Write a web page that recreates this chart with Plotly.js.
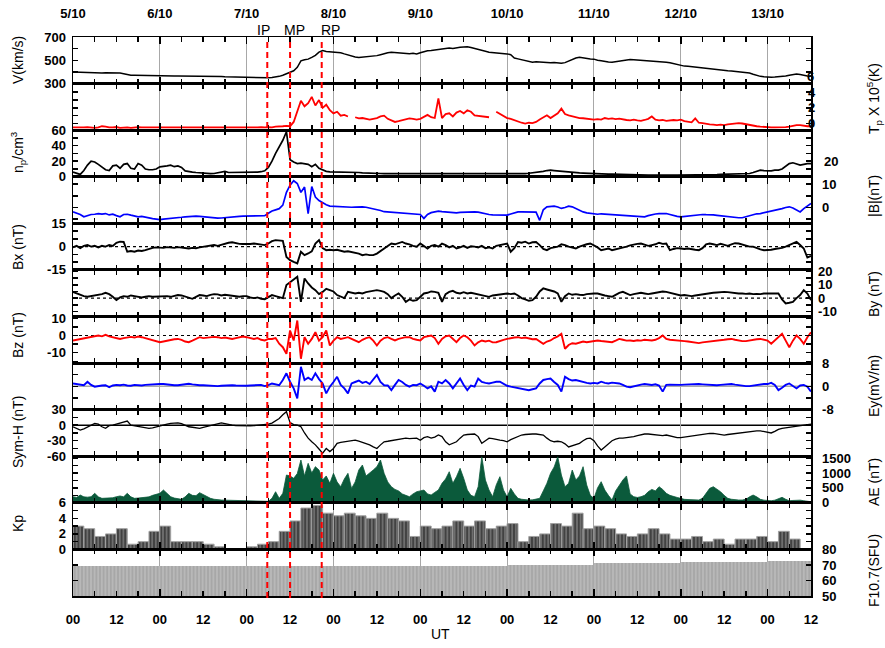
<!DOCTYPE html>
<html><head><meta charset="utf-8">
<script src="https://cdn.plot.ly/plotly-3.0.1.min.js"></script>
<style>html,body{margin:0;padding:0;background:#fff}#chart{width:885px;height:648px}</style>
</head><body><div id="chart"></div>
<script>
// ---- time axis: hours since 5/10 00 UT ----
const DAY_LABELS = ['5/10','6/10','7/10','8/10','9/10','10/10','11/10','12/10','13/10'];
const HOUR_LABELS = ['00','12','00','12','00','12','00','12','00','12','00','12','00','12','00','12','00','12'];
const EVENTS = [{name:'IP', t:53.7, shift:-4}, {name:'MP', t:60.0, shift:4}, {name:'RP', t:68.75, shift:9}];

// ---- hourly series (one row per day) ----
const V = [
400,398,396,394,392,393,394,391,390,392,393,392,393,390,385,378,372,371,370,372,371,369,368,370,
370,369,368,367,365,366,366,365,364,364,363,362,362,361,360,360,361,360,358,357,356,356,355,354,
352,351,350,350,351,350,350,352,356,362,372,385,395,410,440,495,505,510,525,542,570,583,575,572,
570,572,565,555,545,535,528,525,527,530,532,535,540,548,558,565,570,566,562,560,557,556,560,555,
565,575,582,585,590,595,598,600,605,602,610,612,615,617,610,603,598,590,578,570,568,565,560,558,
555,548,520,512,505,495,485,483,488,485,483,480,478,480,476,474,480,495,510,520,526,520,515,512,
510,500,497,490,485,483,488,492,498,502,506,505,503,500,498,494,490,488,486,485,483,478,470,462,
454,450,448,444,440,438,433,430,426,423,420,416,412,410,408,405,402,399,397,390,380,370,362,358,
354,355,356,358,360,365,372,378,383,378,370,366,363];
const TP = [
-0.5,-0.5,-0.55,-0.5,-0.45,-0.5,-0.55,-0.5,-0.35,-0.4,-0.5,-0.5,-0.45,-0.55,-0.5,-0.5,-0.55,-0.5,-0.45,-0.5,-0.5,-0.55,-0.5,-0.5,
-0.5,-0.55,-0.5,-0.5,-0.55,-0.5,-0.5,-0.55,-0.5,-0.55,-0.5,-0.5,-0.55,-0.5,-0.5,-0.55,-0.5,-0.5,-0.55,-0.5,-0.55,-0.5,-0.5,-0.5,
-0.5,-0.55,-0.5,-0.5,-0.45,-0.5,-0.45,-0.5,-0.4,-0.4,-0.35,-0.3,-0.35,0.2,1.7,2.9,2.2,2.6,3.4,2.3,3.0,2.0,2.4,1.7,
1.3,1.5,1.0,1.1,0.9,null,0.8,0.65,0.7,0.55,0.5,0.6,0.7,0.9,1.0,0.6,0.4,0.2,0.3,0.45,0.55,0.65,0.6,0.5,
0.6,0.9,1.1,0.8,0.7,3.2,0.7,1.2,1.3,0.9,1.4,1.6,1.3,1.7,1.5,1.05,1.0,0.9,0.85,0.8,null,1.5,1.2,0.9,
0.7,0.6,0.4,0.3,0.1,0.0,0.1,0.05,0.2,0.5,0.8,1.05,0.7,1.0,1.3,1.9,1.2,1.05,0.9,0.8,0.7,0.67,0.6,0.55,
0.5,0.55,0.5,0.7,0.6,0.65,0.55,0.63,0.5,0.45,0.4,0.5,0.4,0.35,0.45,0.6,0.9,0.5,0.4,0.45,0.35,0.4,0.45,0.4,
0.5,0.3,0.2,0.15,0.65,0.1,0.05,-0.05,-0.1,-0.15,-0.2,-0.15,-0.2,-0.1,-0.05,0.0,0.05,0.0,-0.1,-0.2,-0.3,-0.35,-0.4,-0.45,
-0.45,-0.5,-0.5,-0.5,-0.5,-0.45,-0.4,-0.3,-0.2,-0.2,-0.3,-0.35,-0.35];
const NP = [
6,4,3,8,15,20,19,16,12,9,8,14,15,11,16,17,11,10,17,15,10,9,9,10,
12.7,13,14,15,13,14,12,7.6,6.5,6,5.5,5,4.5,4.2,4,4.2,5,6.5,7,5.5,5.5,6,5.5,5.5,
5.5,5.5,5.8,6,6.5,7.6,12,20,30,38,47,58,22,19,17,17.5,17,16,13,16,11,8.5,7,6.3,
6.3,6.3,6,6,6.3,6,5.5,5.5,5,5,4.5,4.5,4.2,4.2,4.0,4.2,4.0,4.2,4.0,4.0,4.2,4.2,4.2,4.0,
4.2,4.0,4.2,4.0,4.0,4.2,4.0,4.2,4.0,4.0,4.2,4.0,4.0,3.8,4.0,4.0,3.8,4.0,3.6,3.8,3.6,3.8,3.6,3.5,
3.5,3.4,3.6,3.5,3.8,4.0,4.5,5,5.5,6,7,8,8.5,8,7.5,7,6.3,6.5,6,5.5,5,4.8,4.5,4.5,
4.2,4.0,3.8,3.6,3.5,3.4,3.2,3.0,3.0,2.8,2.6,2.5,2.5,2.4,2.3,2.2,2.2,2.0,2.0,2.0,2.0,2.0,2.0,2.0,
2.0,2.0,2.0,2.0,2.0,2.2,2.2,2.4,2.5,2.6,2.8,3.0,3.2,3.4,3.6,3.8,3.5,3.8,4.0,4.2,5.5,7,8.5,8,
8,7.5,8.5,8.5,10,13,17,18,16,15,16,17,17];
const BT = [
-1.9,-2.5,-3,-4,-3.5,-3,-2.9,-2.6,-2.8,-2.6,-3.2,-2.9,-3.5,-4,-3,-2.9,-3.3,-3.8,-4,-3.8,-4.2,-4.5,-4.8,-5,
-5.2,-5.0,-4.9,-4.8,-4.6,-4.4,-4.2,-4.0,-3.8,-3.7,-3.7,-3.8,-4.0,-4.3,-4.5,-4.6,-4.6,-4.5,-4.3,-4.1,-4.0,-3.9,-3.8,-3.7,
-3.7,-3.6,-3.7,-3.6,-3.8,-3.5,-2.5,-1.5,-1.0,-0.5,1.0,6.5,9.6,11.5,10.3,6.5,8.8,-2.6,9.0,4.5,3.0,2.0,1.2,0.6,
0.5,0.4,0.2,0.1,0.0,0.1,0.2,0.3,0.3,0.1,-0.2,-0.4,-0.8,-1.3,-1.8,-1.9,-2.1,-2.3,-2.5,-2.6,-2.7,-2.6,-2.8,-3.0,
-3.0,-4.7,-3.0,-2.2,-1.8,-1.6,-1.8,-2.0,-2.2,-2.3,-2.3,-2.1,-2.0,-1.9,-2.0,-1.9,-2.0,-2.4,-2.8,-3.0,-3.2,-3.3,-3.3,-3.2,
-3.3,-2.8,-2.3,-1.9,-1.9,-2.0,-1.8,-1.9,-2.0,-5.5,-1.0,0.3,0.5,0.6,0.2,-0.4,0.0,0.6,0.3,-0.5,-1.2,-1.9,-2.3,-2.6,
-2.8,-2.9,-2.7,-2.8,-3.0,-3.2,-3.3,-3.5,-3.4,-3.5,-3.6,-3.8,-4.0,-4.0,-4.0,-3.5,-3.0,-2.8,-2.6,-2.6,-2.6,-3.0,-3.5,-3.8,
-4.0,-3.8,-3.6,-3.4,-3.2,-3.0,-3.0,-3.1,-3.0,-3.2,-3.4,-3.6,-3.6,-3.8,-4.0,-4.2,-4.4,-4.4,-4.0,-3.5,-3.0,-2.7,-2.6,-2.3,
-2.0,-1.6,-1.4,-1.0,-0.5,0.0,0.3,-0.2,-1.0,-1.9,-0.5,0.8,1.7];
const BX = [
-0.5,0.5,-1,0.5,1,0,0.5,-0.5,0.5,0,1,0.5,2.5,3.2,3,-3.3,-2.8,-3.3,-2.5,-2.8,-2.3,-1.5,-0.8,-0.5,
-0.5,-0.8,-0.3,-0.5,-0.8,-0.3,-0.5,-1,-1.2,-0.8,-1,-0.5,-0.2,0.3,0.8,1,0.5,1.2,2,2.5,2.8,2.2,1.8,1.7,
1.5,1.7,2,1.8,1.5,1.0,2.0,3.5,4.2,3.8,3.7,-6.6,-8.7,-9.8,-10.8,-3.3,-5.5,-4.4,-3,2,4.2,-1,-2.3,-2.0,
-2.3,-2.0,-2.8,-3.3,-3.0,-3.5,-4.0,-4.5,-5.5,-5.0,-5.5,-5.5,-4.5,-3.0,-1.0,0,2,1.5,2.5,3,2,1.5,0.5,0,
2,0.5,-1.2,0.5,1,0,2,1,-0.5,0.5,-1.2,-0.5,0.5,-0.8,0.2,0,-0.5,0.5,-1,-0.5,-1.2,0.5,1,1.5,
2,-3.3,-1,3,2.5,3.2,2,2.8,3,1,-1.5,-2.3,-1,-0.5,0,1.5,1,0,-0.5,-1.2,0,1,1.5,2,
1,-0.5,-2.3,-1.5,-1.2,-2.3,-1.8,-1,-0.5,0,0.8,1.5,1.8,2,1.2,0.5,1,1.5,2.5,1.8,2,-2.3,-1.5,-1,
-1.2,-1.5,-1.2,-1.8,-2.0,-2.3,-1,1.5,2,1.5,1,1.8,1,0.5,1.5,2.2,2,1.2,0.5,0,0,-1,-1.8,-2.3,
-2.3,-2,-1.5,-1.2,-0.8,0,1,2,3,1,-1.2,-7,-6];
const BY = [
4.7,3.5,2.3,1.5,1,1.5,2,2.3,3,4,3,1,-1.5,0.5,1.5,1,2,1.5,1,0.5,1,1.5,1,1.2,
1,1.2,1.5,1,1.8,2.3,2,1,0,-0.5,1,2.3,2,1.5,2.5,3,2.8,2,2.5,2,1.5,1.2,1,1.5,
1.5,0.5,0,0.5,-0.5,-0.8,0.5,2.3,1.5,0.5,0,9.8,12,13.5,16,-2.8,14.8,11,8,6,3,4.7,7,6,
5,2.3,1,0,4.7,4,3.5,4,3.5,4.5,5,5.5,6,5.5,4.7,3,0,2,3.5,1,-2.8,-1,-2,-1.5,
1,3.5,4,5,4.7,4,-2.8,3,4.7,5.5,4,3.5,4.5,3.5,4,3.5,3,2,1.5,1,2,2.5,3,3.5,
3.5,3,3.5,2,0,-1,-2,-1.5,1,5,7.3,6.5,6,5,3.5,-2.8,1.5,3.5,2.5,3,2.5,2.3,3,3.5,
3.5,3.5,2.5,2,1.5,1,2.5,4,4.7,3.5,2.3,3,3.5,4,3.5,3,3.5,4,4.5,5,4.7,4,3,2.3,
2,2.3,1.8,1.5,2,2.5,3,3.5,3.8,4,4.2,4.5,4.7,4.5,4,3.8,3.5,3.5,3.2,3.5,3,3.2,3,3.5,
3.5,3,3.5,3.5,-1,-4,-3.5,-2.8,0,2.3,6,3.5,-1.5];
const BZ = [
-2.9,-2.5,-2,-1.5,-1.2,-1,-0.5,0,-0.5,0.4,-0.5,-1,-1.5,-2,-1.5,-1,-0.8,-1.2,-0.6,-1,-1.5,-2,-2.5,-3,
-3.9,-3.5,-3,-2.5,-2.2,-2,-2.5,-3.5,-3.9,-3,-2,-1,-1.5,-1.2,-1,-0.8,-1,-1.5,-1.2,-1.8,-2,-1.5,-1,-0.6,
-1,-1.5,-2,-1.5,-2.5,-2.9,-2,-2,-1.5,-4.8,-6.8,-10.6,2.9,-2.9,8.7,-13.5,-1,-4.8,-2,1.9,-3,-1,2.9,-5.8,
-3,-1,-2,-1.5,-1,-2,-3,-3.9,-2.5,-1.5,-1,-3,-5.8,-3,-1.5,-1,-2,-2.9,-2,-1.5,-1,-1,-2,-2.5,
-2.9,-1,-0.5,0,-1.5,-4.8,-2,-0.5,0,-2,-3.9,-1.5,0,-1,-3,-5.8,-4,-2.9,-3.5,-3,-4,-3.9,-3,-2.5,
-2,-1.5,-1.2,-1,-1.5,-1.2,-1.8,-2.2,-2,-3.5,-4.8,-3.5,-2.9,-1.5,-0.5,1,-7.7,-5.5,-4.5,-4.8,-4,-3.5,-3.9,-3.5,
-3,-2.9,-3.2,-3.5,-3.9,-3.9,-3,-2,-2.5,-3,-2.9,-3.2,-2.8,-3,-2.5,-2.8,-2.9,-2.5,-1.5,0,-2,-2.5,-2.8,-2.9,
-3,-3.3,-3.5,-3.8,-4.2,-4.4,-4,-3.8,-3.5,-3.3,-3.3,-3,-2.5,-2.2,-2,-2.5,-3,-3.3,-3.3,-2.8,-2.5,-2.2,-2,-2.5,
-3,-4.8,-3,-1,1,-3,-6.8,-3,0,-2,-4.8,-1,1.9];
const EY = [
1,0.8,0.6,0.4,1.6,0.5,-0.1,0.2,0.3,0.4,-0.3,0.3,0.5,0.4,0.6,0.3,0.2,0.5,0.4,0.3,0.5,0.6,0.8,0.9,
0.8,0.8,0.6,0.5,0.4,0.4,0.5,0.8,0.9,0.7,0.5,0.4,0.4,0.3,0.3,0.2,0.1,0.2,0.3,0.4,0.4,0.3,0.2,0.1,
0.2,0.3,0.4,0.3,0.5,0.1,0.4,1,0.6,0.4,2.2,4.5,1.6,-0.7,-4.1,6.7,2.2,3,2.2,4.5,2.5,1,-2.4,-0.1,
1.5,3.3,0.5,-0.7,-2.4,1,1.5,2,1.2,1.6,0.8,2.5,3.9,1.5,0.4,0.3,-1.3,0.5,2.2,1.5,0.5,-0.1,0.5,0.4,
1,0.2,-0.7,0,-1.8,1.6,1,2.2,1,-0.7,0.8,2.7,0.5,-1.3,0.3,-0.1,2.7,1.5,1.2,1,1.3,1.6,1.6,0.8,
0.2,-0.1,-0.3,-0.5,-0.7,-1.0,-1.3,-1.0,-0.7,1,2.2,2.5,2.7,1.5,0.5,-1.8,3.3,2.5,2,2.2,1.8,1.5,1.2,1,
1.2,1,1.6,1.2,1,1.3,1.1,1,0.5,-0.1,-0.3,0,0.5,0.6,0.8,0.6,0.5,0.7,0.3,-1.8,0.5,0.6,0.5,0.4,
0.5,0.6,0.7,0.8,0.9,0.8,0.7,0.6,0.5,0.4,0.4,0.5,0.6,0.7,0.8,0.6,0.4,0.2,0.1,0.1,0.3,0.5,0.7,0.8,
0.8,1.2,0.5,-1.3,-0.5,0.5,1,0.2,-0.7,0.3,0.5,-0.1,-1.8];
const SYMH = [
-3,-7,-9.5,-7,-4,-1,3.5,2,-3,-6,-1,0,2,3.5,7,8,0,-1,-2,-3,-4,-6,-5,-3,
-1.7,0,2,3.5,4,4.6,3,0,-3,-4,-5,-6,-4,-2,0,2,4,4.6,3,1,0,-1,-1.5,-1.7,
-1.7,-1.5,-1,-0.5,0,1,2,4,8,13,20,26,5,1,0,-3,-15,-25,-32,-38,-46,-54,-45,-51,
-45,-35,-33,-32,-31,-30,-29,-31,-33,-35,-38,-42,-45,-38,-32,-31,-30,-29,-28,-26,-25,-26,-25,-25,
-29,-24,-22,-25,-23,-19,-22,-32,-38,-35,-32,-25,-19,-18,-17,-17,-22,-35,-30,-25,-26,-28,-29,-30,
-32,-28,-25,-22,-19,-18,-17,-17,-17,-18,-19,-25,-30,-32,-31,-32,-36,-42,-40,-37,-35,-30,-26,-25,
-30,-40,-48,-42,-35,-30,-27,-25,-25,-24,-24,-22,-20,-18,-17,-17,-18,-19,-19,-20,-19,-21,-22,-24,
-24,-23,-21,-20,-19,-19,-18,-17,-16,-16,-17,-18,-19,-18,-17,-16,-15,-14,-13,-12,-11,-11,-11,-12,
-14,-15,-12,-8,-6,-5,-4,-3,-3,-1,0,1,2];
const AE = [
205,180,261,200,190,205,318,200,150,160,180,170,205,230,200,318,200,150,160,180,205,200,250,280,
318,429,330,205,160,130,117,200,318,250,240,340,280,200,150,120,100,94,90,85,80,75,70,60,
55,50,45,40,40,35,50,150,372,150,318,931,900,821,980,1434,900,1323,1000,1211,1099,764,900,653,
988,700,540,800,988,484,700,1099,1266,900,988,1100,1211,1434,988,700,540,450,400,300,250,205,300,372,
400,429,300,261,350,429,653,800,1042,653,876,1155,820,429,250,205,540,1545,764,429,205,600,876,429,
200,485,300,150,120,100,94,100,120,150,400,653,988,1200,1545,931,540,653,1099,764,900,1210,596,250,
150,500,708,429,250,94,400,596,764,900,300,205,180,205,250,372,450,400,540,450,318,250,205,180,
150,117,110,100,94,94,150,300,485,540,450,372,250,150,120,100,94,94,120,200,261,200,117,90,
80,70,90,150,184,120,70,80,94,90,70,50,37];
// 3-hourly Kp
const KP = [3,2.67,1.67,2,2.67,0.67,1,2.33, 3,1,1,1,0.67,0.33,0,0,
 0.33,0.67,1,2.33,3.67,5.33,5.67,4.67, 4.33,4.67,4.33,4,4.67,4,3.67,1.67,
 3,2.67,3,3.67,3,3.67,2.67,3, 3.33,1,1.67,2,3.33,3,4.67,2.67,
 3,2.67,2,1.67,2,2.67,2,1.33, 1.33,1.67,1,1.33,0.67,1.33,1.33,1.67,
 1,2.33,1.33,0];
// daily F10.7
const F107 = [69.2,69.2,69.6,69.6,69.4,69.9,71.0,71.9,72.4];

// ---- derived positions ----
const hours = V.map((_, i) => i);
const kpTimes = KP.map((_, k) => 1.5 + 3 * k);
const fTimes = F107.map((_, d) => 12 + 24 * d);
const dayTicks = DAY_LABELS.map((_, d) => 24 * d);
const halfTicks = HOUR_LABELS.map((_, i) => 12 * i);
const sixTicks = Array.from({length: 35}, (_, i) => 6 * i).filter(t => t % 24 !== 0);

const FONT = 'Liberation Sans, Arial, Helvetica, sans-serif';
const NPAN = 12;
const L = 73, R = 811, T = 37, B = 596; // plot area in px
const pxX = x => (x - L) / (R - L);
const pxY = y => (B - y) / (B - T);
const xn = i => i === 0 ? 'x' : 'x' + (i + 1);
const yn = i => i === 0 ? 'y' : 'y' + (i + 1);
const tickFont = () => ({family: FONT, size: 13, color: '#000', weight: 'bold'});

function xax(i) {
  return {domain: [0, 1], anchor: yn(i), range: [0, 204], tickmode: 'array', tickvals: dayTicks,
    ticktext: DAY_LABELS, showticklabels: i === 0, side: i === 0 ? 'top' : 'bottom',
    ticks: 'inside', ticklen: 7, tickwidth: 1.5, tickcolor: '#000',
    showline: true, linecolor: '#000', linewidth: 1.5, mirror: 'ticks',
    showgrid: true, gridcolor: '#a8a8a8', gridwidth: 1, zeroline: false,
    minor: {tickmode: 'array', tickvals: sixTicks, ticks: 'inside', ticklen: 5, tickwidth: 1.5, tickcolor: '#000', showgrid: false},
    tickfont: tickFont(), ticklabelstandoff: 12, fixedrange: true};
}
function yax(i, range, labelled, minorVals, side, standoff) {
  return {domain: [1 - (i + 1) / NPAN, 1 - i / NPAN], anchor: xn(i), range, tickmode: 'array',
    tickvals: labelled, ticktext: labelled.map(String), side, ticks: 'inside', ticklen: 5, tickwidth: 1.5, tickcolor: '#000',
    minor: {tickmode: 'array', tickvals: minorVals, ticks: 'inside', ticklen: 5, tickwidth: 1.5, tickcolor: '#000', showgrid: false},
    mirror: 'ticks', showline: true, linewidth: 1.5, linecolor: '#000', showgrid: false, zeroline: false,
    tickfont: tickFont(), ticklabelstandoff: standoff !== undefined ? standoff : (side === 'right' ? 7 : 3), fixedrange: true};
}

const line = (y, i, color, w) => ({x: hours, y, xaxis: xn(i), yaxis: yn(i), type: 'scatter', mode: 'lines',
  line: {color, width: w}, connectgaps: false, hoverinfo: 'skip', showlegend: false});

const traces = [
  line(V, 0, '#000', 1.5),
  line(TP, 1, '#ff0000', 1.8),
  line(NP, 2, '#000', 1.7),
  line(BT, 3, '#0000ff', 1.7),
  line(BX, 4, '#000', 1.9),
  line(BY, 5, '#000', 1.9),
  line(BZ, 6, '#ff0000', 1.9),
  line(EY, 7, '#0000ff', 1.9),
  line(SYMH, 8, '#000', 1.3),
  {x: hours, y: AE, xaxis: 'x10', yaxis: 'y10', type: 'scatter', mode: 'lines', fill: 'tozeroy',
   fillcolor: '#0b5a3b', line: {color: '#0b5a3b', width: 0.8}, hoverinfo: 'skip', showlegend: false},
  {x: kpTimes, y: KP, width: KP.map(() => 3), xaxis: 'x11', yaxis: 'y11', type: 'bar',
   marker: {color: '#6a6a6a', line: {color: '#a0a0a0', width: 1},
     pattern: {shape: '|', size: 3.6, solidity: 0.35, fgcolor: '#2e2e2e', bgcolor: '#6e6e6e'}},
   hoverinfo: 'skip', showlegend: false},
  {x: fTimes, y: F107.map(v => v - 50), base: 50, width: F107.map(() => 24), xaxis: 'x12', yaxis: 'y12', type: 'bar',
   marker: {color: '#b4b4b4', line: {width: 0},
     pattern: {shape: '|', size: 3.6, solidity: 0.3, fgcolor: '#9c9c9c', bgcolor: '#b8b8b8'}},
   hoverinfo: 'skip', showlegend: false},
  {x: [0, 204], y: [60, 60], xaxis: 'x13', yaxis: 'y12', type: 'scatter', mode: 'lines',
   line: {width: 0, color: 'rgba(0,0,0,0)'}, hoverinfo: 'skip', showlegend: false}
];

const layout = {
  width: 885, height: 648, margin: {l: L, r: 885 - R, t: T, b: 648 - B, pad: 0},
  paper_bgcolor: '#fff', plot_bgcolor: '#fff', font: {family: FONT, color: '#000'},
  showlegend: false, bargap: 0,
  shapes: [], annotations: []
};
for (let i = 0; i < NPAN; i++) layout['xaxis' + (i ? i + 1 : '')] = xax(i);
layout.xaxis13 = {overlaying: 'x12', anchor: 'y12', side: 'bottom', range: [0, 204], tickmode: 'array',
  tickvals: halfTicks, ticktext: HOUR_LABELS, ticks: '', showline: false, showgrid: false, zeroline: false,
  tickfont: tickFont(), ticklabelstandoff: 14, fixedrange: true};

layout.yaxis   = yax(0, [300, 700], [300, 500, 700], [400, 600], 'left');
layout.yaxis2  = yax(1, [-0.85, 5.1], [0, 2, 4], [1, 3, 5], 'right', -7);   // Tp labels sit on the frame
layout.yaxis3  = yax(2, [0, 60], [0, 20, 40, 60], [10, 30, 50], 'left');
layout.yaxis4  = yax(3, [-6.8, 13.2], [0, 10], [-5, 5], 'right');
layout.yaxis5  = yax(4, [-15, 15], [-15, 0, 15], [-10, -5, 5, 10], 'left');
layout.yaxis6  = yax(5, [-13.8, 21.2], [-10, 0, 10, 20], [-5, 5, 15], 'right', 3);
layout.yaxis7  = yax(6, [-16, 11], [-10, 0, 10], [-15, -5, 5], 'left');
layout.yaxis8  = yax(7, [-8, 8], [-8, 0, 8], [-4, 4], 'right');
layout.yaxis9  = yax(8, [-60, 30], [-60, -30, 0, 30], [-45, -15, 15], 'left');
layout.yaxis10 = yax(9, [0, 1560], [0, 500, 1000, 1500], [250, 750, 1250], 'right');
layout.yaxis11 = yax(10, [0, 6], [0, 2, 4, 6], [1, 3, 5], 'left');
layout.yaxis12 = yax(11, [50, 80], [50, 60, 70, 80], [], 'right');

// zero reference lines
const zl = (i, color, dash, w) => ({type: 'line', xref: xn(i), yref: yn(i), x0: 0, x1: 204, y0: 0, y1: 0,
  line: {color, width: w, dash}, layer: 'below'});
layout.shapes.push(zl(4, '#000', 'dot', 1.2), zl(5, '#000', 'dot', 1.2), zl(6, '#000', 'dot', 1.2),
  zl(7, '#a8a8a8', 'solid', 1.5), zl(8, '#000', 'solid', 1.5));
// event lines
EVENTS.forEach(e => {
  layout.shapes.push({type: 'line', xref: 'x', yref: 'paper', x0: e.t, x1: e.t, y0: pxY(598), y1: pxY(40),
    line: {color: '#ff0000', width: 2, dash: '6px,4px'}, layer: 'above'});
  layout.annotations.push({text: e.name, xref: 'x', x: e.t, xshift: e.shift, yref: 'paper', y: pxY(30),
    showarrow: false, xanchor: 'center', yanchor: 'middle', font: {family: FONT, size: 14, color: '#000'}});
});

// extra right-side labels: Tp "6" above its frame, and n_p "20"
layout.annotations.push({text: '6', xref: 'paper', x: 1, xshift: -1, yref: 'paper', y: pxY(76.5),
  showarrow: false, xanchor: 'center', yanchor: 'middle', font: tickFont()});
layout.annotations.push({text: '20', xref: 'paper', x: 1, xshift: 11, yref: 'y3', y: 20,
  showarrow: false, xanchor: 'left', yanchor: 'middle', font: tickFont()});

// axis titles
const title = (text, ypx, right) => ({text, xref: 'paper', yref: 'paper', x: pxX(right ? 874 : 18), y: pxY(ypx),
  textangle: -90, showarrow: false, xanchor: 'center', yanchor: 'middle', font: {family: FONT, size: 14, color: '#000'}});
layout.annotations.push(
  title('V(km/s)', 60, false),
  title('n<sub>p</sub>/cm<sup>3</sup>', 152, false),
  title('Bx (nT)', 247, false),
  title('Bz (nT)', 335, false),
  title('Sym-H (nT)', 432, false),
  title('Kp', 524, false),
  title('T<sub>p</sub> X 10<sup>5</sup>(K)', 99, true),
  title('|B|(nT)', 196, true),
  title('By (nT)', 294, true),
  title('Ey(mV/m)', 386, true),
  title('AE (nT)', 482, true),
  title('F10.7(SFU)', 571, true),
  {text: 'UT', xref: 'paper', yref: 'paper', x: pxX(440), y: pxY(634), showarrow: false,
   xanchor: 'center', yanchor: 'middle', font: {family: FONT, size: 14, color: '#000'}}
);

Plotly.newPlot('chart', traces, layout, {displayModeBar: false, staticPlot: true});
</script>
</body></html>
